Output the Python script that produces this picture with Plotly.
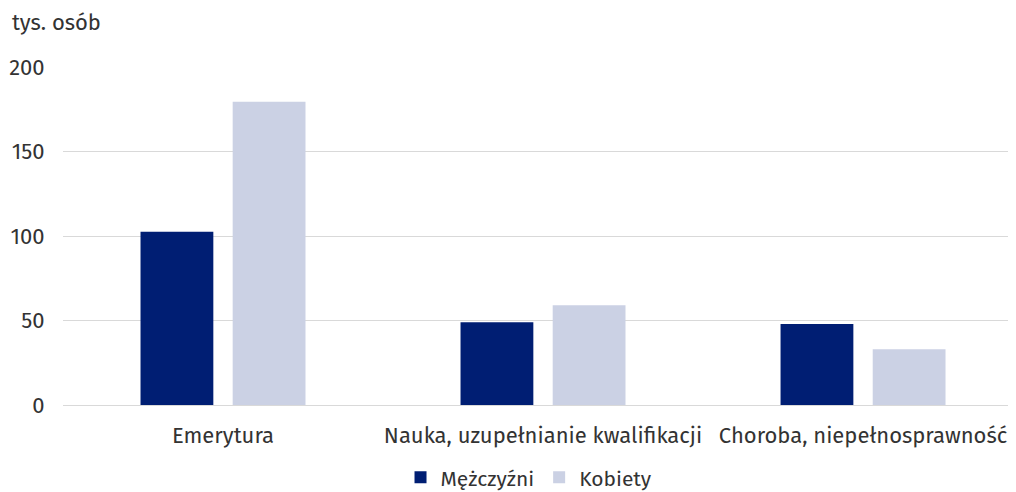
import plotly.graph_objects as go

categories = ["Emerytura", "Nauka, uzupełnianie kwalifikacji", "Choroba, niepełnosprawność"]
men = [102.5, 49, 48]
women = [179.5, 59, 33]
series_names = ["Mężczyźni", "Kobiety"]
tick_vals = [0, 50, 100, 150, 200]

font_family = "Fira Sans, Open Sans, Noto Sans, sans-serif"
text_color = "#333333"
fs = 22

fig = go.Figure()
fig.add_trace(go.Bar(x=categories, y=men, name=series_names[0], marker_color="#001e73", marker_line_width=0))
fig.add_trace(go.Bar(x=categories, y=women, name=series_names[1], marker_color="#cbd1e4", marker_line_width=0))

fig.update_layout(
    width=1008, height=484,
    margin=dict(l=55, r=0, t=59, b=87, autoexpand=False),
    paper_bgcolor="white", plot_bgcolor="white",
    barmode="group", bargap=0.424, bargroupgap=0.21,
    font=dict(family=font_family, size=fs, color=text_color),
    showlegend=True,
    legend=dict(orientation="h", x=0.489, xanchor="center", y=-0.215, yanchor="middle",
                font=dict(size=21, color=text_color), itemwidth=30, traceorder="normal",
                borderwidth=0, tracegroupgap=0),
    annotations=[dict(text="tys. osób", xref="paper", yref="paper", x=-0.0556, y=1.133,
                      xanchor="left", yanchor="middle", showarrow=False,
                      font=dict(size=fs, color=text_color))],
)
fig.update_xaxes(range=[-0.5, 2.478], showgrid=False, showline=False, ticks="outside", ticklen=11,
                 tickcolor="rgba(0,0,0,0)", automargin=False, tickfont=dict(size=fs, color=text_color))
fig.update_yaxes(range=[0, 200], tickvals=tick_vals, showgrid=True, gridcolor="#d9d9d9", gridwidth=1,
                 zeroline=True, zerolinecolor="#d9d9d9", zerolinewidth=1, showline=False,
                 ticks="outside", ticklen=13, tickcolor="rgba(0,0,0,0)", automargin=False,
                 tickfont=dict(size=fs, color=text_color))

fig.write_html("out.html")
